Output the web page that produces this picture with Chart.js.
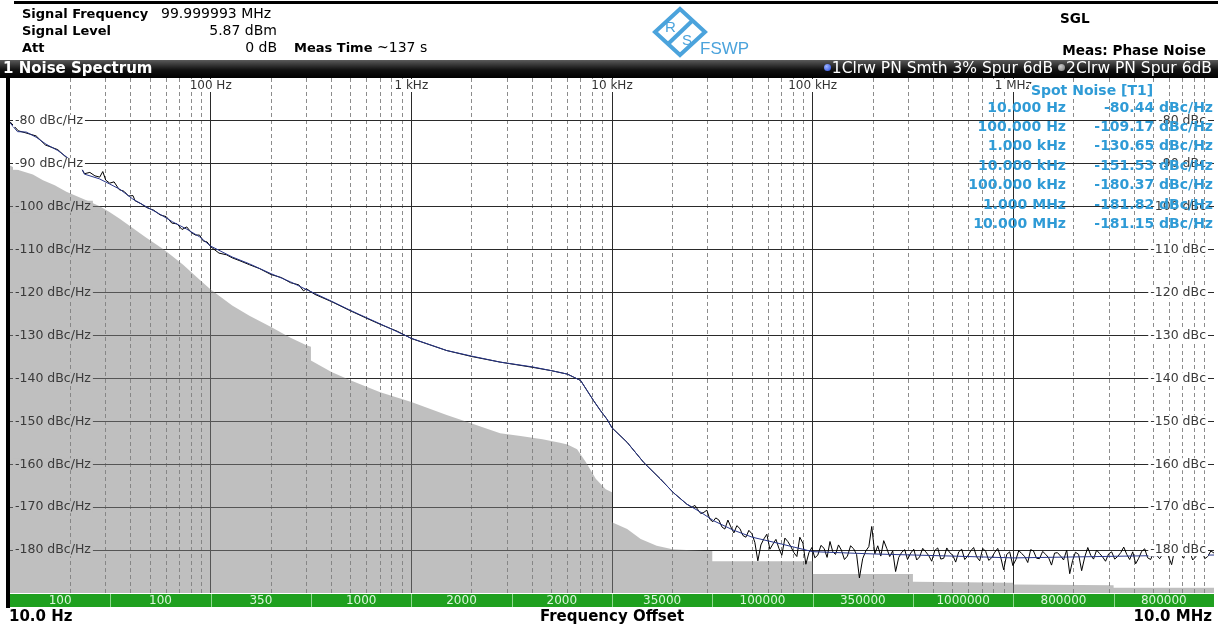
<!DOCTYPE html>
<html>
<head>
<meta charset="utf-8">
<title>Noise Spectrum</title>
<script src="https://cdn.jsdelivr.net/npm/chart.js@4.4.1/dist/chart.umd.min.js"></script>
<style>
  body { margin: 0; background: #fff; font-family: 'DejaVu Sans', Verdana, sans-serif; }
  #wrap { position: relative; width: 1218px; height: 625px; overflow: hidden; }
  #c { position: absolute; left: 0; top: 0; }
  .t { position: absolute; white-space: nowrap; color: #000; font-size: 14px; line-height: 16px; }
  .b { font-weight: bold; font-size: 13px; }
  .r { text-align: right; }
  #topline { position: absolute; left: 14px; top: 1px; width: 1204px; height: 3px; background: #000; }
  #bar { position: absolute; left: 0; top: 60px; width: 1218px; height: 18px;
         background: linear-gradient(#5a5a5a, #111 55%, #000); color: #fff; }
  #bar .t { color: #fff; top: 1px; }
  .dot { display: inline-block; width: 7px; height: 7px; border-radius: 50%; margin-right: 1px; vertical-align: 2px; }
  #frame { position: absolute; left: 6px; top: 78px; width: 4px; height: 530px; background: #000; }
  .foot { position: absolute; top: 607px; font-weight: bold; font-size: 15px; white-space: nowrap; }
</style>
</head>
<body>
<div id="wrap">
  <canvas id="c" width="1218" height="625"></canvas>

  <div id="topline"></div>
  <div class="t b" style="left:22px;top:6px">Signal Frequency</div>
  <div class="t" style="left:161px;top:5px">99.999993 MHz</div>
  <div class="t b" style="left:22px;top:23px">Signal Level</div>
  <div class="t r" style="left:150px;width:127px;top:22px">5.87 dBm</div>
  <div class="t b" style="left:22px;top:40px">Att</div>
  <div class="t r" style="left:150px;width:127px;top:39px">0 dB</div>
  <div class="t b" style="left:294px;top:40px">Meas Time</div>
  <div class="t" style="left:377px;top:39px">~137 s</div>

  <svg style="position:absolute;left:652px;top:6px" width="100" height="52">
    <g fill="none" stroke="#4ba3dc" stroke-width="4">
      <path d="M28 3 L53 26 L28 49 L3 26 Z"/>
      <path d="M40 15 L16 38"/>
    </g>
    <text x="13" y="26" font-family="Liberation Sans" font-size="15" fill="#4ba3dc">R</text>
    <text x="30" y="39" font-family="Liberation Sans" font-size="15" fill="#4ba3dc">S</text>
    <text x="48" y="48" font-family="Liberation Sans Narrow, Liberation Sans" font-size="17" fill="#4ba3dc">FSWP</text>
  </svg>

  <div class="t b" style="left:1060px;top:10px;font-size:13.6px">SGL</div>
  <div class="t b r" style="left:950px;width:256px;top:42px;font-size:13.6px">Meas: Phase Noise</div>

  <div id="bar">
    <div class="t b" style="left:3px;font-size:15px;top:0">1 Noise Spectrum</div>
    <div class="t r" style="left:700px;width:512px;font-size:15.5px;top:0">
      <span class="dot" style="background:radial-gradient(circle at 35% 35%,#9fb6ff,#2346e0)"></span>1Clrw PN Smth 3% Spur 6dB
      <span class="dot" style="background:radial-gradient(circle at 35% 35%,#ccc,#777)"></span>2Clrw PN Spur 6dB
    </div>
  </div>

  <div id="frame"></div>
  <div class="foot" style="left:9px">10.0 Hz</div>
  <div class="foot" style="left:412px;width:400px;text-align:center">Frequency Offset</div>
  <div class="foot" style="left:1000px;width:212px;text-align:right">10.0 MHz</div>
</div>

<script>
// Trace 1: smoothed phase noise [Hz, dBc/Hz]
const smoothTrace = [
  [10, -80.44], [10.9, -82.5], [12.05, -82.6], [13.5, -83.8], [15.1, -85.4], [17.3, -86.9],
  [19.8, -88.9], [22.2, -90.0], [23.5, -92.4], [27.9, -93.5], [31.4, -94.7], [35.2, -95.9],
  [40.9, -98.2], [47.8, -100.0], [55.7, -101.7], [64.5, -103.5], [75.9, -105.2], [88, -107.0],
  [100, -109.17], [128, -111.7], [156, -113.3], [200, -115.6], [250, -117.5], [300, -119.3],
  [400, -122.0], [500, -124.2], [700, -127.3], [1000, -130.65], [1500, -133.5], [2000, -134.8],
  [2770, -136.2], [4000, -137.3], [5000, -138.2], [6000, -139.0], [6440, -139.7], [6980, -140.5],
  [7530, -142.9], [8100, -145.2], [8760, -147.5], [9440, -149.5], [10000, -151.53], [11900, -154.9],
  [14400, -159.6], [17400, -163.4], [20200, -166.6], [23600, -169.3], [27500, -171.1], [32200, -173.2],
  [40000, -175.3], [50000, -177.0], [70000, -178.6], [100000, -180.37], [200000, -180.9],
  [500000, -181.4], [1000000, -181.82], [2000000, -181.6], [5000000, -181.3], [10000000, -181.15]
];

// Trace 2: raw phase noise with spurs [Hz, dBc/Hz]
const rawTrace = [
  [10, -80.2], [11, -82.3], [12, -82.8], [13.5, -83.5], [15, -85.6], [17.3, -86.7], [19.8, -89.2],
  [21, -89.5], [22.2, -90.3], [23.5, -92.3], [25, -92.0], [26.5, -92.8], [28, -93.1], [29, -91.8],
  [30, -93.8], [31.4, -94.5], [33, -94.2], [35, -96.0], [37, -96.4], [39, -97.5], [41, -97.4],
  [42, -98.6], [45, -99.3], [48, -100.2], [52, -100.8], [56, -101.9], [60, -102.3], [64, -103.8],
  [68, -104.0], [72, -105.3], [76, -104.7], [80, -106.0], [84, -106.6], [88, -106.6], [92, -108.0],
  [96, -108.2], [100, -109.3], [110, -110.8], [120, -111.2], [128, -111.9], [140, -112.6],
  [156, -113.5], [175, -114.4], [200, -115.8], [225, -116.5], [250, -117.7], [275, -118.2],
  [290, -119.6], [300, -119.1], [330, -120.4], [400, -122.1], [500, -124.3], [600, -126.0],
  [700, -127.4], [850, -129.0], [1000, -130.7], [1500, -133.5], [2000, -134.9], [2770, -136.2],
  [4000, -137.4], [5000, -138.2], [6000, -139.0], [6440, -139.7], [6980, -140.5], [7530, -142.9],
  [8100, -145.2], [8760, -147.5], [9440, -149.5], [10000, -151.5], [11900, -154.9], [14400, -159.6],
  [17400, -163.4], [20200, -166.6], [23600, -169.3], [25000, -170.0], [25900, -169.6], [26800, -170.6],
  [27700, -171.5], [28700, -171.2], [29700, -170.7], [30700, -172.8], [31800, -173.4], [32900, -172.5],
  [34100, -173.0], [35300, -174.6], [36500, -175.1], [37800, -173.0], [39100, -174.6], [40500, -176.0],
  [41900, -174.3], [43400, -175.0], [44900, -176.6], [46500, -177.0], [48100, -175.4], [49800, -176.2],
  [51500, -178.2], [53300, -182.5], [55200, -178.8], [57100, -177.4], [59100, -176.3], [61200, -179.8],
  [63400, -178.6], [65600, -177.5], [67900, -179.6], [70200, -181.2], [72700, -177.2], [75200, -178.0],
  [77900, -179.2], [80600, -180.6], [83400, -181.5], [86300, -177.0], [89400, -178.4], [92500, -183.3],
  [95800, -180.6], [99100, -179.4], [102500, -181.8], [106000, -181.2], [110000, -178.9], [114000, -179.6],
  [118000, -181.7], [122000, -178.0], [126000, -180.4], [130000, -181.0], [134500, -178.8], [139000, -180.0],
  [144000, -182.2], [149000, -181.4], [154500, -179.0], [160000, -179.7], [165500, -181.0], [171000, -186.5],
  [177500, -182.0], [184000, -180.2], [190500, -179.2], [197000, -174.5], [204000, -180.9], [211000, -179.0],
  [218500, -181.4], [226000, -177.8], [234000, -179.6], [242000, -181.5], [250500, -180.2], [259000, -185.0],
  [268500, -181.7], [278000, -180.5], [287500, -179.9], [297000, -182.2], [308000, -180.7], [319000, -179.8],
  [330000, -182.3], [341000, -181.6], [353500, -179.6], [366000, -180.4], [379000, -181.3], [392000, -182.6],
  [406000, -180.1], [420000, -179.5], [435000, -182.1], [450000, -181.9], [466000, -179.5], [482000, -180.6],
  [499000, -181.2], [516000, -182.8], [534500, -180.4], [553000, -179.8], [572500, -182.2], [592000, -181.4],
  [613000, -180.2], [634000, -179.4], [657000, -181.6], [680000, -182.5], [704000, -179.6], [728000, -180.3],
  [754000, -182.4], [780000, -181.8], [808000, -180.5], [836000, -179.6], [865500, -181.7], [895000, -184.6],
  [927000, -181.0], [959000, -180.4], [994500, -183.6], [1030000, -182.2], [1065000, -180.1], [1100000, -180.8],
  [1140000, -181.5], [1180000, -182.9], [1220000, -179.9], [1260000, -180.2], [1305000, -181.9], [1350000, -182.0],
  [1400000, -180.3], [1450000, -181.0], [1500000, -181.8], [1550000, -183.5], [1605000, -180.7], [1660000, -180.6],
  [1720000, -181.4], [1780000, -182.3], [1845000, -180.0], [1910000, -185.5], [1975000, -182.4], [2040000, -180.5],
  [2115000, -181.0], [2190000, -184.8], [2270000, -181.6], [2350000, -179.4], [2430000, -181.2], [2510000, -182.1],
  [2600000, -180.0], [2690000, -180.8], [2785000, -181.6], [2880000, -182.6], [2985000, -180.9], [3090000, -180.4],
  [3200000, -182.1], [3310000, -181.5], [3430000, -180.6], [3550000, -179.3], [3675000, -181.0], [3800000, -182.2],
  [3935000, -180.4], [4070000, -183.2], [4215000, -181.9], [4360000, -180.3], [4515000, -179.7], [4670000, -181.8],
  [4835000, -182.2], [5000000, -180.5], [5180000, -181.2], [5360000, -182.0], [5550000, -180.9], [5740000, -180.0],
  [5945000, -181.6], [6150000, -183.4], [6370000, -179.8], [6590000, -180.6], [6825000, -180.9], [7060000, -181.9],
  [7310000, -179.6], [7560000, -180.2], [7830000, -182.3], [8100000, -181.6], [8390000, -180.4], [8680000, -179.8],
  [8990000, -182.0], [9300000, -181.5], [9650000, -180.2], [10000000, -180.7]
];

// Grey area: measurement floor per half-decade segment [Hz, dBc/Hz]
const floorTrace = [
  [10, -90.4], [11.1, -91.5], [13, -92.5], [14.6, -93.8], [16.7, -95.0], [19.1, -96.5], [21.4, -97.5],
  [24, -98.5], [28, -99.9], [31.3, -101.2], [35.2, -102.8], [41, -105.0], [47.8, -107.2], [57.6, -109.8],
  [62.4, -111.0], [72.9, -113.5], [88.1, -117.0], [100, -119.3], [128, -123.0],
  [156, -125.4], [200, -128.0], [250, -130.5], [300, -132.3], [316, -132.6], [316, -135.8],
  [400, -138.5], [500, -140.5], [700, -143.2], [1000, -145.5], [1500, -148.5], [2000, -150.5],
  [2770, -152.8], [3500, -153.4], [4500, -154.2], [5500, -155.0], [6000, -155.4], [6700, -156.5],
  [7400, -159.5], [8300, -163.4], [9300, -165.8], [10000, -166.5], [10000, -173.5], [11900, -175.1],
  [13900, -177.4], [16700, -179.0], [20000, -179.8], [29000, -180.2], [31600, -180.2], [31600, -182.6],
  [100000, -182.6], [100000, -185.6], [316000, -185.6], [316000, -187.4], [1000000, -187.6],
  [1000000, -188.0], [3160000, -188.2], [3160000, -188.8], [10000000, -188.8]
];

// Axis texts
const levelTicks = [-80, -90, -100, -110, -120, -130, -140, -150, -160, -170, -180];
const decadeValues = [100, 1000, 10000, 100000, 1000000];
const decadeLabels = ['100 Hz', '1 kHz', '10 kHz', '100 kHz', '1 MHz'];
const segmentLabels = ['100', '100', '350', '1000', '2000', '2000', '35000', '100000', '350000', '1000000', '800000', '800000'];

// Spot noise marker table
const spotFreqs = ['10.000 Hz', '100.000 Hz', '1.000 kHz', '10.000 kHz', '100.000 kHz', '1.000 MHz', '10.000 MHz'];
const spotLevels = [-80.44, -109.17, -130.65, -151.53, -180.37, -181.82, -181.15];

// grid lines at 1..9 x 10^n
const gridFreqs = [];
for (let e = 1; e < 7; e++) {
  for (let k = 1; k < 10; k++) {
    if (e === 1 && k === 1) continue;
    gridFreqs.push(k * Math.pow(10, e));
  }
}
const isDecade = v => Math.abs(Math.log10(v) - Math.round(Math.log10(v))) < 1e-9;
const toPoints = arr => arr.map(([x, y]) => ({ x, y }));

function bgAt(ctx, px, py) {
  const d = ctx.getImageData(Math.round(px), Math.round(py), 1, 1).data;
  const a = d[3] / 255;
  const mix = c => Math.round(c * a + 255 * (1 - a));
  return `rgb(${mix(d[0])},${mix(d[1])},${mix(d[2])})`;
}

const overlay = {
  id: 'overlay',
  afterDraw(chart) {
    const { ctx, chartArea: a, scales: { x, y } } = chart;
    ctx.save();
    ctx.textBaseline = 'middle';
    ctx.font = '12.5px "DejaVu Sans"';

    // level labels, left and right
    const items = levelTicks.map(v => {
      const py = y.getPixelForValue(v);
      return { v, py, bgL: bgAt(ctx, a.left + 6, py - 7), bgR: bgAt(ctx, a.right - 58, py - 10) };
    });
    items.forEach(({ v, py, bgL, bgR }) => {
      const lt = v + ' dBc/Hz';
      const lx = a.left + 5;
      const lw = ctx.measureText(lt).width;
      ctx.fillStyle = bgL;
      ctx.fillRect(lx - 2, py - 6, lw + 4, 12);
      ctx.fillStyle = '#3a3a3a';
      ctx.textAlign = 'left';
      ctx.fillText(lt, lx, py);

      const rt = v + ' dBc';
      const rx = a.right - 8;
      const rw = ctx.measureText(rt).width;
      ctx.fillStyle = bgR;
      ctx.fillRect(rx - rw - 2, py - 6, rw + 4, 12);
      ctx.fillStyle = '#3a3a3a';
      ctx.textAlign = 'right';
      ctx.fillText(rt, rx, py);
    });

    // decade labels at top
    ctx.font = '12px "DejaVu Sans"';
    ctx.textAlign = 'center';
    decadeValues.forEach((v, i) => {
      const px = x.getPixelForValue(v);
      const w = ctx.measureText(decadeLabels[i]).width;
      ctx.fillStyle = '#fff';
      ctx.fillRect(px - w / 2 - 2, a.top + 1, w + 4, 13);
      ctx.fillStyle = '#333';
      ctx.fillText(decadeLabels[i], px, a.top + 8);
    });

    // green segment bar
    const gTop = a.bottom + 1, gH = 13;
    ctx.fillStyle = '#1fa01f';
    ctx.fillRect(a.left, gTop, a.right - a.left, gH);
    segmentLabels.forEach((s, i) => {
      const x0 = x.getPixelForValue(Math.pow(10, 1 + i / 2));
      const x1 = x.getPixelForValue(Math.pow(10, 1.5 + i / 2));
      if (i > 0) {
        ctx.fillStyle = '#8fd88f';
        ctx.fillRect(Math.round(x0), gTop, 1, gH);
      }
      ctx.fillStyle = '#dcf5dc';
      ctx.fillText(s, (x0 + x1) / 2, gTop + gH / 2 + 0.5);
    });

    // spot noise table
    ctx.font = 'bold 14px "DejaVu Sans"';
    const title = 'Spot Noise [T1]';
    const tw = ctx.measureText(title).width;
    ctx.fillStyle = '#fff';
    ctx.fillRect(1092 - tw / 2 - 2, a.top + 6, tw + 4, 15);
    ctx.fillStyle = '#2f9bd6';
    ctx.fillText(title, 1092, a.top + 13);
    spotFreqs.forEach((f, i) => {
      const py = a.top + 30 + i * 19.4;
      ctx.textAlign = 'right';
      ctx.fillText(f, 1066, py);
      ctx.fillText(spotLevels[i].toFixed(2) + ' dBc/Hz', 1213, py);
    });
    ctx.restore();
  }
};

new Chart(document.getElementById('c'), {
  type: 'line',
  data: {
    datasets: [
      { label: '1Clrw PN Smth 3%', data: toPoints(smoothTrace), borderColor: '#27358a', borderWidth: 1,
        pointRadius: 0, order: 0 },
      { label: '2Clrw PN', data: toPoints(rawTrace), borderColor: '#000', borderWidth: 1,
        pointRadius: 0, order: 1 },
      { label: 'floor', data: toPoints(floorTrace), borderWidth: 0, borderColor: 'rgba(0,0,0,0)',
        backgroundColor: 'rgba(128,128,128,0.5)', fill: 'start', pointRadius: 0, order: 2 }
    ]
  },
  options: {
    responsive: false,
    animation: false,
    layout: { padding: { left: 10, right: 4, top: 78, bottom: 32 } },
    plugins: { legend: { display: false }, tooltip: { enabled: false } },
    scales: {
      x: {
        type: 'logarithmic', min: 10, max: 1e7,
        afterBuildTicks: s => { s.ticks = gridFreqs.map(v => ({ value: v })); },
        ticks: { display: false },
        grid: {
          drawTicks: false,
          color: ctx => (ctx.tick && isDecade(ctx.tick.value)) ? '#2a2a2a' : '#8c8c8c'
        },
        border: { display: false, dash: ctx => (ctx.tick && isDecade(ctx.tick.value)) ? [] : [4, 3] }
      },
      y: {
        min: -190, max: -70,
        ticks: { display: false, stepSize: 10 },
        grid: {
          drawTicks: false,
          color: ctx => (ctx.tick && (ctx.tick.value <= -190 || ctx.tick.value >= -70)) ? 'rgba(0,0,0,0)' : '#2a2a2a'
        },
        border: { display: false }
      }
    }
  },
  plugins: [overlay]
});
</script>
</body>
</html>
